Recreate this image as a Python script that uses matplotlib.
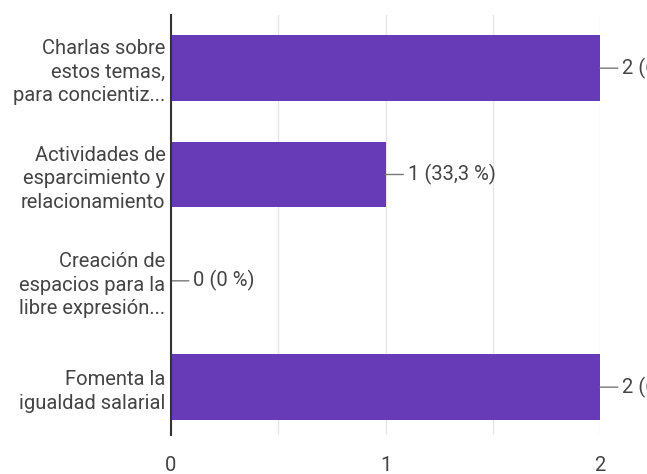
import matplotlib.pyplot as plt
from matplotlib.ticker import MultipleLocator

# data
categories = [
    "Charlas sobre\nestos temas,\npara concientiz...",
    "Actividades de\nesparcimiento y\nrelacionamiento",
    "Creación de\nespacios para la\nlibre expresión...",
    "Fomenta la\nigualdad salarial",
]
counts = [2, 1, 0, 2]
labels = ["2 (66,7 %)", "1 (33,3 %)", "0 (0 %)", "2 (66,7 %)"]
xticks = [0, 1, 2]

plt.rcParams['font.family'] = ['Roboto', 'DejaVu Sans']

fig = plt.figure(figsize=(6.47, 4.74), dpi=100)
ax = fig.add_axes([171 / 647, 1 - 435 / 474, (600 - 171) / 647, (435 - 15) / 474])

ypos = list(range(len(categories)))
ax.barh(ypos, counts, height=0.62, color='#673ab7', zorder=3)

for y, v, lab in zip(ypos, counts, labels):
    ax.annotate(lab, xy=(v, y), xytext=(22, 0), textcoords='offset pixels',
                va='center', ha='left', fontsize=14.5, color='#444444',
                annotation_clip=False,
                arrowprops=dict(arrowstyle='-', color='#777777', lw=1,
                                shrinkA=1, shrinkB=0))

ax.set_xlim(0, 2)
ax.set_ylim(3.45, -0.5)
ax.set_yticks(ypos)
ax.set_yticklabels(categories, fontsize=14.5, color='#444444', linespacing=1.3)
ax.set_xticks(xticks)
ax.set_xticklabels([str(t) for t in xticks], fontsize=14.5, color='#444444')
ax.xaxis.set_minor_locator(MultipleLocator(0.5))
ax.tick_params(axis='both', which='both', length=0)
ax.tick_params(axis='y', pad=4)
ax.tick_params(axis='x', pad=15)
ax.grid(axis='x', which='both', color='#e6e6e6', lw=1, zorder=0)

for s in ['top', 'right', 'bottom']:
    ax.spines[s].set_visible(False)
ax.spines['left'].set_color('#333333')
ax.spines['left'].set_linewidth(1.5)
ax.spines['left'].set_zorder(4)

fig.savefig('out.png', dpi=100)
